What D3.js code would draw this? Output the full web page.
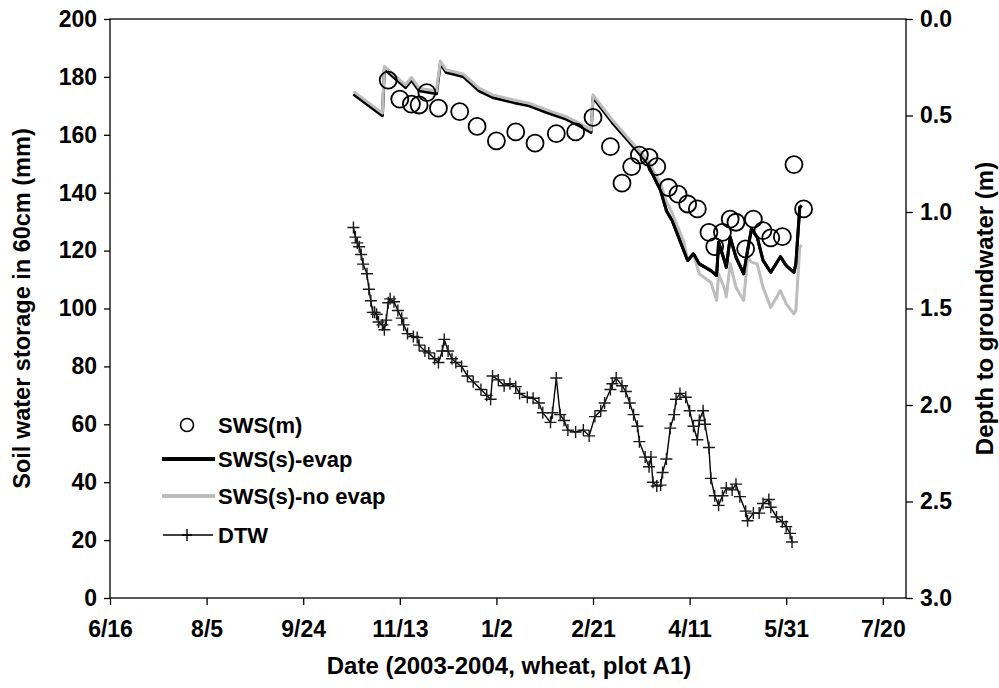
<!DOCTYPE html>
<html lang="en">
<head>
<meta charset="utf-8">
<title>Soil water storage and depth to groundwater</title>
<script src="https://cdn.jsdelivr.net/npm/d3@7"></script>
<style>
  body { margin: 0; background: #fff; }
  svg { display: block; font-family: "Liberation Sans", Arial, sans-serif; font-weight: bold; }
</style>
</head>
<body>
<script>

// simulated soil water storage (mm), shared dates for both runs
var simDates = ["2003-10-20","2003-11-04","2003-11-05","2003-11-16","2003-11-19","2003-11-23","2003-12-02","2003-12-04",
  "2003-12-07","2003-12-11","2003-12-16","2003-12-24","2003-12-31","2004-01-11","2004-01-19","2004-01-28","2004-02-07",
  "2004-02-14","2004-02-20","2004-02-21","2004-02-25","2004-03-02","2004-03-11","2004-03-20","2004-03-27","2004-03-30",
  "2004-04-02","2004-04-08","2004-04-10","2004-04-13","2004-04-16","2004-04-22","2004-04-25","2004-04-26","2004-04-29",
  "2004-04-30","2004-05-02","2004-05-05","2004-05-09","2004-05-11","2004-05-13","2004-05-16","2004-05-19","2004-05-23",
  "2004-05-28","2004-05-31","2004-06-04","2004-06-05","2004-06-07","2004-06-08"];
var simEvap = [174, 166.6, 182.7, 176.3, 178.9, 175.2, 174.2, 184.6, 181.5, 180.9, 180, 175.2, 172.9, 171.1, 170, 167.7,
  165.4, 163.1, 160.8, 172.9, 169.4, 164.2, 157.3, 150.3, 140.7, 133.8, 130.3, 120, 116.6, 118.9, 115.4, 113.1, 111.4,
  122.9, 116.6, 114.2, 124.6, 117.7, 112, 120, 127.5, 124.6, 116.6, 112.5, 117.9, 114.8, 112.5, 115.4, 134.9, 135.5];
var simNoEvap = [175, 167.5, 183.6, 177.2, 179.8, 176.1, 175.1, 185.5, 182.4, 181.8, 180.9, 176.1, 173.8, 172, 170.9, 168.6,
  166.3, 164, 161.7, 173.8, 170.3, 165.1, 158.2, 151.5, 143, 137, 133, 123, 117, 118.6, 112, 109, 102.8,
  112, 107, 104, 115.5, 107.3, 102.8, 117.7, 116, 115.4, 107.3, 100.4, 106.2, 101.6, 98.2, 99.3, 121.1, 122];

// measured soil water storage (mm)
var measDates = ["2003-11-07","2003-11-13","2003-11-19","2003-11-23","2003-11-27","2003-12-03","2003-12-14","2003-12-23",
  "2004-01-02","2004-01-12","2004-01-22","2004-02-02","2004-02-12","2004-02-21","2004-03-01","2004-03-07","2004-03-12",
  "2004-03-16","2004-03-21","2004-03-25","2004-03-31","2004-04-05","2004-04-10","2004-04-15","2004-04-21","2004-04-24",
  "2004-04-28","2004-05-02","2004-05-05","2004-05-10","2004-05-14","2004-05-19","2004-05-23","2004-05-29","2004-06-04",
  "2004-06-09"];
var measSWS = [178.9, 172.3, 170.6, 170.3, 174.6, 169.2, 168, 162.9, 157.9, 161, 157.1, 160.4, 161, 166, 155.9, 143.3,
  149, 153, 152.2, 149, 141.8, 139.5, 136.1, 134.4, 126.3, 121.4, 126.3, 130.9, 129.8, 120.6, 130.9, 126.9, 124.4,
  124.8, 149.7, 134.4];

// depth to groundwater (m), right axis
var dtwDates = ["2003-10-20","2003-10-21","2003-10-22","2003-10-23","2003-10-24","2003-10-25","2003-10-27","2003-10-28",
  "2003-10-29","2003-10-30","2003-10-31","2003-11-01","2003-11-02","2003-11-04","2003-11-05","2003-11-06","2003-11-07",
  "2003-11-08","2003-11-10","2003-11-12","2003-11-14","2003-11-15","2003-11-17","2003-11-20","2003-11-22","2003-11-23",
  "2003-11-26","2003-11-28","2003-12-01","2003-12-03","2003-12-05","2003-12-06","2003-12-08","2003-12-10","2003-12-12",
  "2003-12-15","2003-12-18","2003-12-21","2003-12-25","2003-12-28","2003-12-30","2003-12-31","2004-01-03","2004-01-06",
  "2004-01-09","2004-01-12","2004-01-14","2004-01-18","2004-01-21","2004-01-24","2004-01-26","2004-01-30","2004-01-31",
  "2004-02-02","2004-02-04","2004-02-06","2004-02-08","2004-02-12","2004-02-16","2004-02-19","2004-02-22","2004-02-25",
  "2004-02-27","2004-03-01","2004-03-02","2004-03-04","2004-03-07","2004-03-09","2004-03-11","2004-03-13","2004-03-15",
  "2004-03-16","2004-03-19","2004-03-21","2004-03-22","2004-03-23","2004-03-25","2004-03-27","2004-03-28","2004-03-30",
  "2004-04-01","2004-04-03","2004-04-04","2004-04-06","2004-04-09","2004-04-11","2004-04-13","2004-04-15","2004-04-16",
  "2004-04-18","2004-04-19","2004-04-21","2004-04-22","2004-04-24","2004-04-26","2004-04-28","2004-04-30","2004-05-03",
  "2004-05-05","2004-05-07","2004-05-10","2004-05-11","2004-05-14","2004-05-17","2004-05-19","2004-05-22","2004-05-23",
  "2004-05-26","2004-05-29","2004-05-31","2004-06-02","2004-06-03"];
var dtwDepth = [1.08, 1.13, 1.16, 1.18, 1.22, 1.27, 1.32, 1.40, 1.46, 1.52, 1.52, 1.53, 1.57, 1.585, 1.61, 1.56, 1.47,
  1.45, 1.465, 1.51, 1.55, 1.585, 1.63, 1.645, 1.65, 1.69, 1.72, 1.73, 1.76, 1.78, 1.72, 1.66, 1.72, 1.76, 1.78,
  1.80, 1.85, 1.88, 1.92, 1.95, 1.97, 1.85, 1.87, 1.90, 1.89, 1.905, 1.94, 1.96, 1.965, 1.99, 2.04, 2.09, 2.04,
  1.86, 2.05, 2.08, 2.13, 2.14, 2.13, 2.16, 2.06, 2.03, 1.99, 1.92, 1.89, 1.86, 1.90, 1.93, 1.99, 2.05, 2.11,
  2.19, 2.27, 2.32, 2.27, 2.40, 2.42, 2.415, 2.35, 2.28, 2.12, 2.05, 1.97, 1.94, 1.96, 2.03, 2.11, 2.18, 2.08,
  2.03, 2.10, 2.22, 2.38, 2.47, 2.52, 2.47, 2.43, 2.44, 2.41, 2.475, 2.55, 2.60, 2.56, 2.56, 2.51, 2.49, 2.53,
  2.58, 2.605, 2.63, 2.665, 2.71];

// axis ticks
var xTicks = ["2003-06-16","2003-08-05","2003-09-24","2003-11-13","2004-01-02","2004-02-21","2004-04-11","2004-05-31","2004-07-20"];
var xDomain = ["2003-06-16","2004-08-01"];
var yTicks = [0, 20, 40, 60, 80, 100, 120, 140, 160, 180, 200];
var y2Ticks = [0, 0.5, 1.0, 1.5, 2.0, 2.5, 3.0];
var legendLabels = ["SWS(m)", "SWS(s)-evap", "SWS(s)-no evap", "DTW"];

var w = 999, h = 688;
var padL = 110, padR = 906, padT = 19, padB = 598;
var parse = d3.utcParse("%Y-%m-%d");

var svg = d3.select("body").append("svg").attr("width", w).attr("height", h);

var x = d3.scaleUtc().domain(xDomain.map(parse)).range([padL, padR]);
var y = d3.scaleLinear().domain([0, 200]).range([padB, padT]);
var y2 = d3.scaleLinear().domain([0, 3]).range([padT, padB]);

//axes
var fmt = d3.utcFormat("%-m/%-d");
var gx = svg.append("g").attr("transform", "translate(0," + padB + ")")
  .call(d3.axisBottom(x).tickValues(xTicks.map(parse)).tickFormat(fmt).tickSize(7).tickSizeOuter(0).tickPadding(16));
var gy = svg.append("g").attr("transform", "translate(" + padL + ",0)")
  .call(d3.axisLeft(y).tickValues(yTicks).tickSize(6).tickSizeOuter(0).tickPadding(7));
var gy2 = svg.append("g").attr("transform", "translate(" + padR + ",0)")
  .call(d3.axisRight(y2).tickValues(y2Ticks).tickFormat(d3.format(".1f")).tickSize(7).tickSizeOuter(0).tickPadding(7));

[gx, gy, gy2].forEach(function(g) {
  g.selectAll("text").attr("font-size", 23).attr("fill", "#000");
  g.selectAll("line").attr("stroke", "#000").attr("stroke-width", 1.3);
  g.select(".domain").remove();
  g.attr("font-family", null).attr("font-size", null);
});

svg.append("rect")
  .attr("x", padL).attr("y", padT).attr("width", padR - padL).attr("height", padB - padT)
  .attr("fill", "none").attr("stroke", "#000").attr("stroke-width", 1.3);

//axis titles
svg.append("text").text("Date (2003-2004, wheat, plot A1)")
  .attr("x", (padL + padR) / 2 + 1).attr("y", 674).attr("text-anchor", "middle").attr("font-size", 24);
svg.append("text").text("Soil water storage in 60cm (mm)")
  .attr("transform", "translate(30," + (padT + padB) / 2 + ") rotate(-90)")
  .attr("text-anchor", "middle").attr("font-size", 23.5);
svg.append("text").text("Depth to groundwater (m)")
  .attr("transform", "translate(993," + (padT + padB) / 2 + ") rotate(-90)")
  .attr("text-anchor", "middle").attr("font-size", 24);

//series
var sim = simDates.map(function(d, i) { return { date: parse(d), evap: simEvap[i], noevap: simNoEvap[i] }; });
var meas = measDates.map(function(d, i) { return { date: parse(d), v: measSWS[i] }; });
var dtw = dtwDates.map(function(d, i) { return { date: parse(d), v: dtwDepth[i] }; });

var plot = svg.append("g");

plot.append("path").datum(sim)
  .attr("d", d3.line().x(function(d) { return x(d.date); }).y(function(d) { return y(d.evap); }))
  .attr("fill", "none").attr("stroke", "#000").attr("stroke-width", 3).attr("stroke-linejoin", "round");

plot.append("path").datum(sim)
  .attr("d", d3.line().x(function(d) { return x(d.date); }).y(function(d) { return y(d.noevap); }))
  .attr("fill", "none").attr("stroke", "#bdbdbd").attr("stroke-width", 3).attr("stroke-linejoin", "round");

// black line back on top where the runs split
plot.append("path").datum(sim.filter(function(d) { return d.date >= parse("2004-03-20"); }))
  .attr("d", d3.line().x(function(d) { return x(d.date); }).y(function(d) { return y(d.evap); }))
  .attr("fill", "none").attr("stroke", "#000").attr("stroke-width", 3).attr("stroke-linejoin", "round");

plot.append("path").datum(dtw)
  .attr("d", d3.line().x(function(d) { return x(d.date); }).y(function(d) { return y2(d.v); }))
  .attr("fill", "none").attr("stroke", "#000").attr("stroke-width", 1.4);

var cross = "M-6,0H6M0,-6V6";
plot.selectAll(".dtw").data(dtw).enter().append("path")
  .attr("class", "dtw")
  .attr("d", cross)
  .attr("transform", function(d) { return "translate(" + x(d.date) + "," + y2(d.v) + ")"; })
  .attr("stroke", "#1a1a1a").attr("stroke-width", 1.4).attr("fill", "none");

plot.selectAll("circle").data(meas).enter().append("circle")
  .attr("cx", function(d) { return x(d.date); })
  .attr("cy", function(d) { return y(d.v); })
  .attr("r", 8.5)
  .attr("fill", "none").attr("stroke", "#000").attr("stroke-width", 1.8);

//legend
var lg = svg.append("g");
var ly = [425, 459, 496, 535];
lg.append("circle").attr("cx", 187).attr("cy", ly[0]).attr("r", 6.5)
  .attr("fill", "none").attr("stroke", "#000").attr("stroke-width", 1.6);
lg.append("line").attr("x1", 162).attr("x2", 215).attr("y1", ly[1]).attr("y2", ly[1])
  .attr("stroke", "#000").attr("stroke-width", 4);
lg.append("line").attr("x1", 162).attr("x2", 215).attr("y1", ly[2]).attr("y2", ly[2])
  .attr("stroke", "#bdbdbd").attr("stroke-width", 4);
lg.append("line").attr("x1", 163).attr("x2", 213).attr("y1", ly[3]).attr("y2", ly[3])
  .attr("stroke", "#000").attr("stroke-width", 1.4);
lg.append("path").attr("d", "M-5,0H5M0,-6V6").attr("transform", "translate(187," + ly[3] + ")")
  .attr("stroke", "#000").attr("stroke-width", 1.4);
lg.selectAll("text").data(legendLabels).enter().append("text")
  .text(function(d) { return d; })
  .attr("x", 218)
  .attr("y", function(d, i) { return ly[i] + 8; })
  .attr("font-size", 22);

</script>
</body>
</html>
